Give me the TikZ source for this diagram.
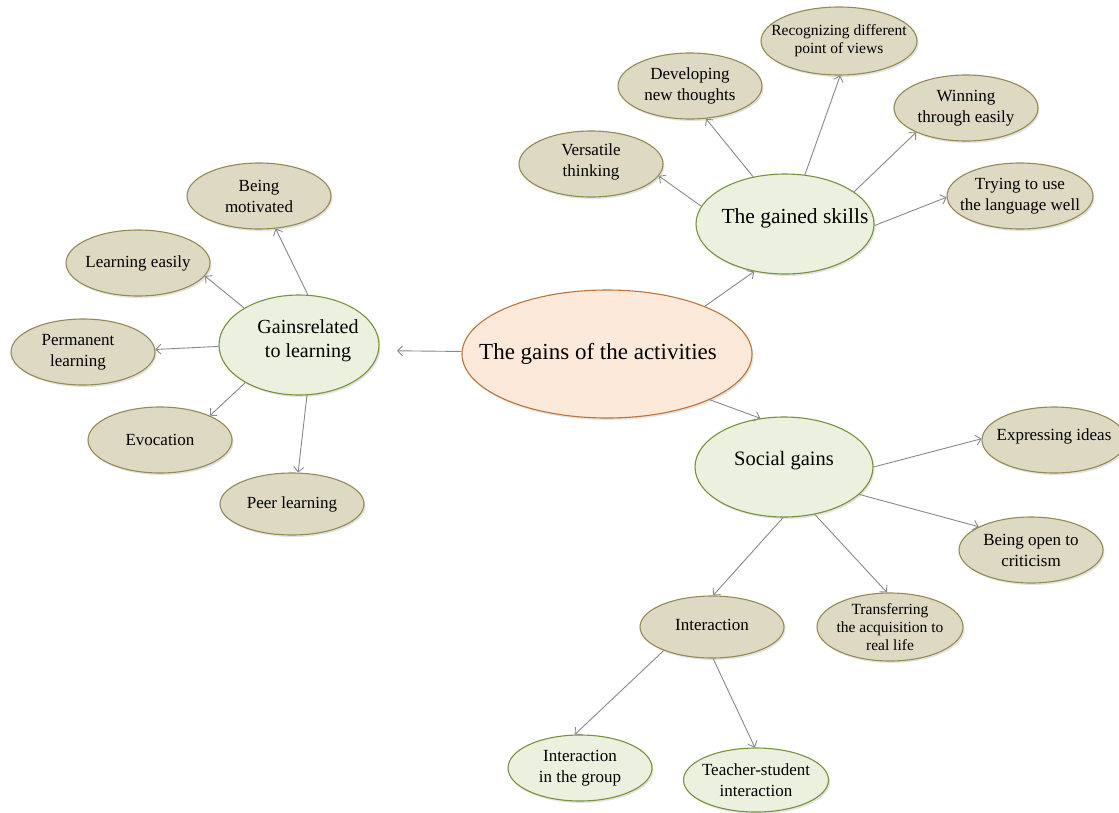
\documentclass[tikz,border=0pt]{standalone}
\usepackage{fontspec}
\setmainfont{Liberation Serif}
\usetikzlibrary{shapes.geometric, arrows.meta, shadows}

\definecolor{tanF}{HTML}{DDD9C3}
\definecolor{tanD}{HTML}{948A54}
\definecolor{grnF}{HTML}{EBF1DE}
\definecolor{grnD}{HTML}{76923C}
\definecolor{hubF}{HTML}{FDE9D9}
\definecolor{hubD}{HTML}{B9743A}
\definecolor{lnk}{HTML}{888888}

\begin{document}
\begin{tikzpicture}[x=1pt, y=-1pt,
  bub/.style={ellipse, draw, line width=1.1pt, inner sep=0pt,
    drop shadow={opacity=0.22, shadow xshift=1.5pt, shadow yshift=-2pt}},
  leaf/.style={bub, fill=tanF, draw=tanD, minimum width=144pt, minimum height=66pt},
  gleaf/.style={bub, fill=grnF, draw=grnD, minimum width=144pt, minimum height=66pt},
  branch/.style={bub, fill=grnF, draw=grnD},
  hub/.style={bub, fill=hubF, draw=hubD},
  txt/.style={align=center, inner sep=0pt, font=\fontsize{17}{21}\selectfont},
  small/.style={txt, font=\fontsize{15.5}{18}\selectfont},
  arr/.style={draw=lnk, line width=0.9pt, -{Straight Barb[length=5pt, width=10pt]}}
]
\useasboundingbox (0,0) rectangle (1119,812);

% central idea
\node[hub, minimum width=290pt, minimum height=128pt,
  label={[txt, font=\fontsize{23}{27}\selectfont, xshift=-9pt]center:The gains of the activities}]
  (gains) at (607,354) {};

% three main branches
\node[branch, minimum width=178pt, minimum height=100pt,
  label={[txt, font=\fontsize{21.5}{25}\selectfont, xshift=10pt, yshift=6pt]center:The gained skills}]
  (skills) at (785,224) {};
\node[branch, minimum width=160pt, minimum height=100pt,
  label={[txt, font=\fontsize{20}{24}\selectfont, xshift=9pt, yshift=4pt]center:{Gainsrelated\\to learning}}]
  (learning) at (299,345) {};
\node[branch, minimum width=178pt, minimum height=100pt,
  label={[txt, font=\fontsize{20.5}{24}\selectfont, yshift=6pt]center:Social gains}]
  (social) at (784,467) {};

% gains related to learning
\node[leaf, label={[txt]center:{Being\\motivated}}] (motiv) at (259,196) {};
\node[leaf, label={[txt]center:Learning easily}] (easy) at (138,263) {};
\node[leaf, label={[txt, xshift=-5pt]center:{Permanent\\learning}}] (perm) at (83,352) {};
\node[leaf, label={[txt]center:Evocation}] (evoc) at (160,440) {};
\node[leaf, minimum height=62pt, label={[txt]center:Peer learning}] (peer) at (292,504) {};

% the gained skills
\node[leaf, label={[txt, yshift=2pt]center:{Versatile\\thinking}}] (vers) at (591,164) {};
\node[leaf, label={[txt]center:{Developing\\new thoughts}}] (devel) at (690,86) {};
\node[leaf, minimum width=156pt, minimum height=68pt,
  label={[small]center:{Recognizing different\\point of views}}] (recog) at (839,41) {};
\node[leaf, label={[txt]center:{Winning\\through easily}}] (winning) at (966,108) {};
\node[leaf, minimum width=146pt, label={[txt]center:{Trying to use\\the language well}}] (trying) at (1020,196) {};

% social gains
\node[leaf, label={[txt, yshift=4pt]center:Expressing ideas}] (express) at (1054,440) {};
\node[leaf, label={[txt]center:{Being open to\\criticism}}] (open) at (1031,550) {};
\node[leaf, minimum height=62pt, label={[txt, yshift=2pt]center:Interaction}] (inter) at (712,627) {};
\node[leaf, minimum width=146pt, minimum height=68pt,
  label={[small]center:{Transferring\\the acquisition to\\real life}}] (transfer) at (890,627) {};

% kinds of interaction
\node[gleaf, label={[txt]center:{Interaction\\in the group}}] (group) at (580,768) {};
\node[gleaf, minimum width=145pt, minimum height=64pt,
  label={[txt]center:{Teacher-student\\interaction}}] (teacher) at (756,780) {};

% connectors
\draw[arr] (gains.26) -- (skills.237);
\draw[arr, shorten >=18pt] (gains.179) -- (learning.356);
\draw[arr] (gains.-24) -- (social.116);

\draw[arr] (learning.80) -- (motiv.297);
\draw[arr] (learning.146) -- (easy.349);
\draw[arr] (learning.181) -- (perm.2);
\draw[arr] (learning.215) -- (evoc.26);
\draw[arr] (learning.279) -- (peer.79);

\draw[arr] (skills.168) -- (vers.-10);
\draw[arr] (skills.124) -- (devel.-64);
\draw[arr] (skills.68) -- (recog.-88);
\draw[arr] (skills.25) -- (winning.206);
\draw[arr] (skills.-1) -- (trying.181);

\draw[arr] (social.0) -- (express.179);
\draw[arr] (social.-20) -- (open.156);
\draw[arr] (social.269) -- (inter.88);
\draw[arr] (social.303) -- (transfer.95);

\draw[arr] (inter.206) -- (group.99);
\draw[arr] (inter.272) -- (teacher.92);
\end{tikzpicture}
\end{document}
